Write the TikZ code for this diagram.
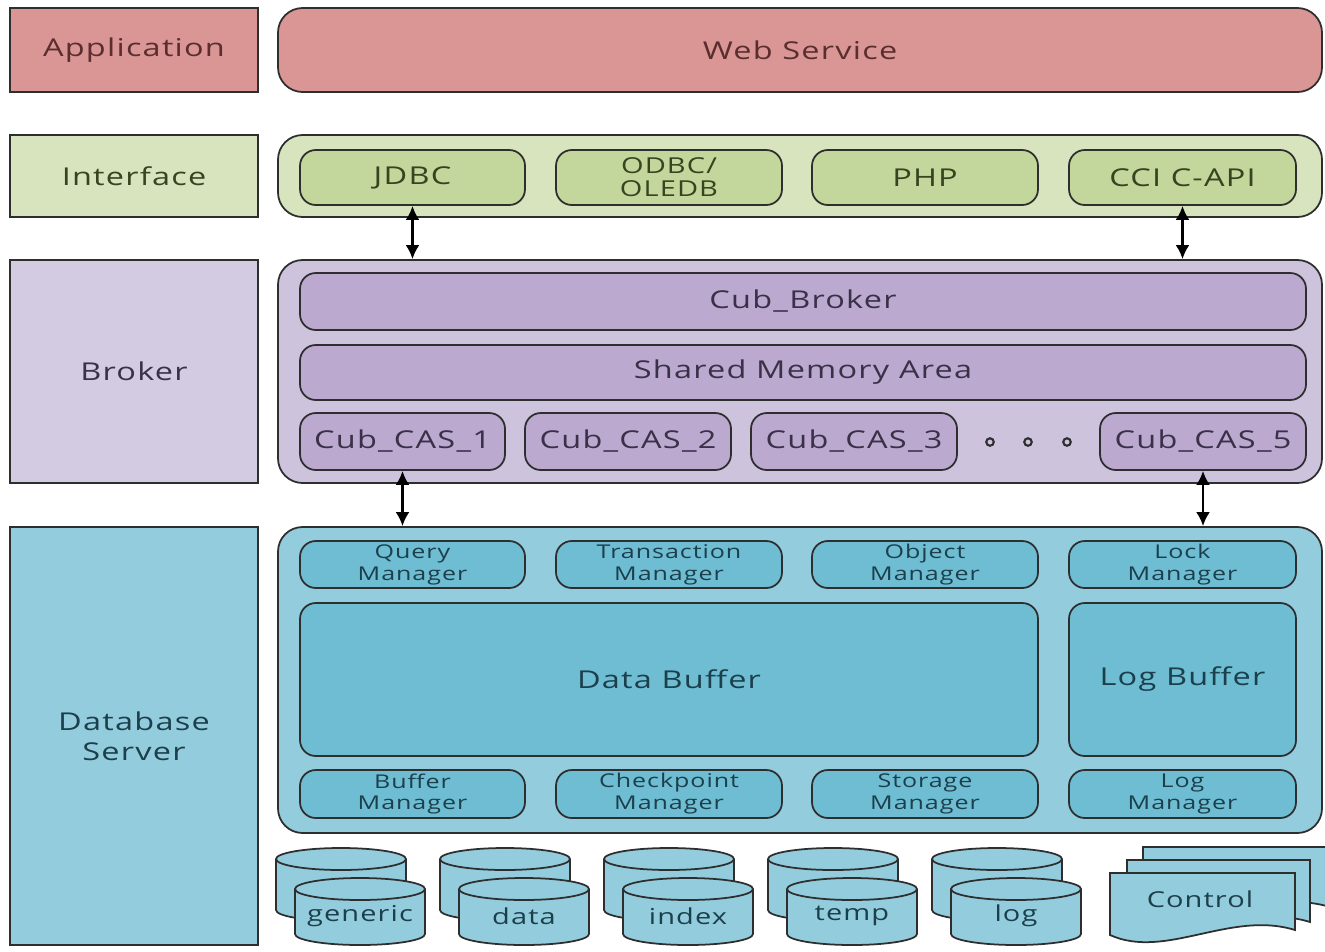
\documentclass[tikz,border=0pt]{standalone}
\usepackage{fontspec}
\setmainfont{Open Sans}[FakeStretch=1.32,LetterSpace=5]
\usetikzlibrary{arrows.meta}
\definecolor{appfill}{HTML}{D99694}
\definecolor{apptext}{HTML}{5A2E2E}
\definecolor{iflabel}{HTML}{D7E4BD}
\definecolor{ifinner}{HTML}{C3D69B}
\definecolor{iftext}{HTML}{36441F}
\definecolor{brlabel}{HTML}{D3CBE1}
\definecolor{brouter}{HTML}{CEC3DD}
\definecolor{brinner}{HTML}{BBA9CF}
\definecolor{brtext}{HTML}{3A3048}
\definecolor{dbouter}{HTML}{93CDDD}
\definecolor{dbinner}{HTML}{6EBDD3}
\definecolor{dbtext}{HTML}{1C3F4C}
\definecolor{edgec}{HTML}{2E2E2E}
\tikzset{
  labelbox/.style={draw=edgec, line width=1.3pt, inner sep=0pt, align=center, font=\fontsize{14}{17}\selectfont},
  outerbox/.style={draw=edgec, line width=1pt, rounded corners=14pt, inner sep=0pt, align=center, font=\fontsize{14}{17}\selectfont},
  innerbox/.style={draw=edgec, line width=1pt, rounded corners=9pt, inner sep=0pt, align=center, font=\fontsize{14}{15}\selectfont},
  mgrbox/.style={innerbox, font=\fontsize{10.8}{12.5}\selectfont},
  dblarrow/.style={{Latex[length=8pt,width=8pt]}-{Latex[length=8pt,width=8pt]}, line width=1.5pt, black},
  cylstyle/.style={draw=edgec, line width=1pt, fill=dbouter},
  docstyle/.style={draw=edgec, line width=1pt, fill=dbouter},
  cyltext/.style={font=\fontsize{12.5}{14}\selectfont, text=dbtext, inner sep=0pt},
  dotc/.style={circle, draw=edgec, line width=1.2pt, fill=brouter, minimum size=0.15cm, inner sep=0pt}
}
% box node from corner (x1,y1) to (x2,y2), in pixel units
\newcommand{\boxnode}[7]{%
  \node[#1, minimum width={(#5-#3)*0.02cm}, minimum height={(#6-#4)*0.02cm}] (#2) at ({(#3+#5)/2},{(#4+#6)/2}) {#7};}
\newcommand{\cylshape}[3]{%
  \filldraw[cylstyle] (#1,#2) -- ++(0,#3) arc[start angle=180,end angle=360,x radius=1.3cm,y radius=0.22cm] -- ++(0,-#3) arc[start angle=0,end angle=180,x radius=1.3cm,y radius=0.22cm] -- cycle;
  \draw[cylstyle, fill=none] (#1,#2) arc[start angle=180,end angle=360,x radius=1.3cm,y radius=0.22cm];
}
\newcommand{\docshape}[4]{%
  \filldraw[docstyle] (#1,#4) -- (#1,#2) -- (#3,#2) -- (#3,#4-5) .. controls ({#1+0.65*(#3-#1)},#4-25) and ({#1+0.3*(#3-#1)},#4+25) .. (#1,#4) -- cycle;
}
\begin{document}
\begin{tikzpicture}[x=0.02cm,y=-0.02cm]
\useasboundingbox[fill=white] (0,0) rectangle (1325,951);
\clip (0,0) rectangle (1325,951);

% left column labels
\boxnode{labelbox, fill=appfill, text=apptext}{applbl}{10}{8}{258}{92}{Application}
\boxnode{labelbox, fill=iflabel, text=iftext}{iflbl}{10}{135}{258}{217}{Interface}
\boxnode{labelbox, fill=brlabel, text=brtext}{brlbl}{10}{260}{258}{483}{Broker}
\boxnode{labelbox, fill=dbouter, text=dbtext}{dblbl}{10}{527}{258}{945}{Database\\Server}

% application
\boxnode{outerbox, fill=appfill, text=apptext}{web}{278}{8}{1322}{92}{Web Service}

% interface
\boxnode{outerbox, fill=iflabel}{ifbox}{278}{135}{1322}{217}{}
\boxnode{innerbox, fill=ifinner, text=iftext}{jdbc}{300}{150}{525}{205}{JDBC}
\boxnode{innerbox, fill=ifinner, text=iftext, font=\fontsize{12.5}{13}\selectfont}{odbc}{556}{150}{782}{205}{ODBC/\\OLEDB}
\boxnode{innerbox, fill=ifinner, text=iftext}{php}{812}{150}{1038}{205}{PHP}
\boxnode{innerbox, fill=ifinner, text=iftext}{cci}{1069}{150}{1296}{205}{CCI C-API}

% broker
\boxnode{outerbox, fill=brouter}{brbox}{278}{260}{1322}{483}{}
\boxnode{innerbox, fill=brinner, text=brtext}{cubbroker}{300}{273}{1306}{330}{Cub\_Broker}
\boxnode{innerbox, fill=brinner, text=brtext}{shm}{300}{345}{1306}{400}{Shared Memory Area}
\boxnode{innerbox, fill=brinner, text=brtext}{cas1}{300}{413}{505}{470}{Cub\_CAS\_1}
\boxnode{innerbox, fill=brinner, text=brtext}{cas2}{525}{413}{731}{470}{Cub\_CAS\_2}
\boxnode{innerbox, fill=brinner, text=brtext}{cas3}{751}{413}{957}{470}{Cub\_CAS\_3}
\boxnode{innerbox, fill=brinner, text=brtext}{cas5}{1100}{413}{1306}{470}{Cub\_CAS\_5}
\node[dotc] (dot1) at (990,442) {};
\node[dotc] (dot2) at (1028,442) {};
\node[dotc] (dot3) at (1067,442) {};

% database server
\boxnode{outerbox, fill=dbouter}{dbbox}{278}{527}{1322}{833}{}
\boxnode{mgrbox, fill=dbinner, text=dbtext}{qm}{300}{541}{525}{588}{Query\\Manager}
\boxnode{mgrbox, fill=dbinner, text=dbtext}{tm}{556}{541}{782}{588}{Transaction\\Manager}
\boxnode{mgrbox, fill=dbinner, text=dbtext}{om}{812}{541}{1038}{588}{Object\\Manager}
\boxnode{mgrbox, fill=dbinner, text=dbtext}{lm}{1069}{541}{1296}{588}{Lock\\Manager}
\boxnode{innerbox, fill=dbinner, text=dbtext}{databuf}{300}{603}{1038}{756}{Data Buffer}
\boxnode{innerbox, fill=dbinner, text=dbtext}{logbuf}{1069}{603}{1296}{756}{Log Buffer}
\boxnode{mgrbox, fill=dbinner, text=dbtext}{bm}{300}{770}{525}{818}{Buffer\\Manager}
\boxnode{mgrbox, fill=dbinner, text=dbtext}{cm}{556}{770}{782}{818}{Checkpoint\\Manager}
\boxnode{mgrbox, fill=dbinner, text=dbtext}{sm}{812}{770}{1038}{818}{Storage\\Manager}
\boxnode{mgrbox, fill=dbinner, text=dbtext}{logm}{1069}{770}{1296}{818}{Log\\Manager}

% connectors
\draw[dblarrow] (jdbc.south) -- (jdbc.south |- brbox.north);
\draw[dblarrow] (cci.south) -- (cci.south |- brbox.north);
\draw[dblarrow] (cas1.south) -- (cas1.south |- dbbox.north);
\draw[dblarrow] (cas5.south) -- (cas5.south |- dbbox.north);

% volumes
\foreach \lx in {276,440,604,768,932}{
  \cylshape{\lx}{859}{51}
  \cylshape{\lx+19}{889}{45}
}
\node[cyltext] (vgeneric) at (360,916) {generic};
\node[cyltext] (vdata) at (524,916) {data};
\node[cyltext] (vindex) at (688,916) {index};
\node[cyltext] (vtemp) at (852,916) {temp};
\node[cyltext] (vlog) at (1016,916) {log};

% control files
\docshape{1143}{847}{1330}{912}
\docshape{1127}{860}{1310}{927}
\docshape{1110}{873}{1295}{935}
\node[cyltext] (control) at (1200,899) {Control};
\end{tikzpicture}
\end{document}
